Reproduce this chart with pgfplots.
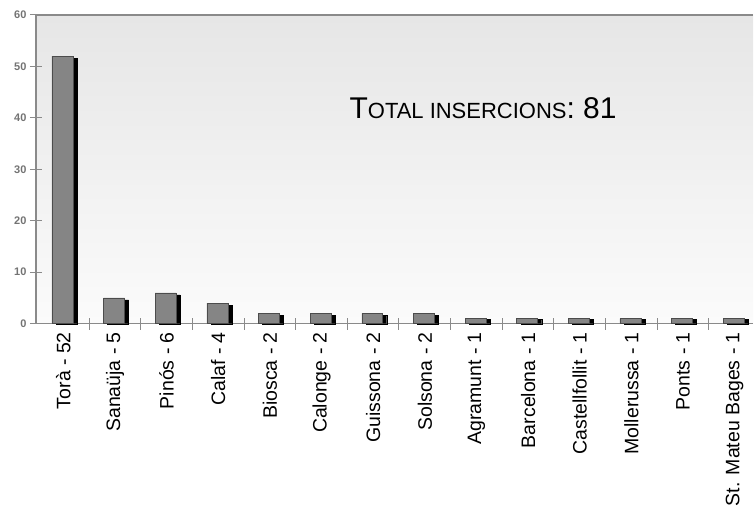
\documentclass[border=0pt]{standalone}
\usepackage{pgfplots}
\pgfplotsset{compat=1.18}
\usepackage{fontspec}
\setmainfont{Liberation Sans}
\definecolor{bargray}{HTML}{858585}
\definecolor{axgray}{HTML}{8A8A8A}
\definecolor{bgtop}{HTML}{E6E6E6}
\definecolor{bgbot}{HTML}{FBFBFB}
\begin{document}
\begin{tikzpicture}
\begin{axis}[
  name=ax,
  scale only axis,
  width=718pt, height=309pt,
  xmin=-0.53, xmax=13.36,
  ymin=0, ymax=60,
  ytick={0,10,...,60},
  xtick={0,...,13},
  xticklabels={Torà - 52,Sanaüja - 5,Pinós - 6,Calaf - 4,Biosca - 2,Calonge - 2,Guissona - 2,Solsona - 2,Agramunt - 1,Barcelona - 1,Castellfollit - 1,Mollerussa - 1,Ponts - 1,St. Mateu Bages - 1},
  x tick label style={rotate=90, anchor=east, font=\fontsize{19.5}{20}\selectfont, xshift=1pt},
  y tick label style={font=\fontsize{11}{12}\selectfont\bfseries, text=black!55},
  /pgf/number format/assume math mode=true,
  minor xtick={0.5,1.5,...,12.5},
  xtick style={draw=none},
  minor x tick style={draw=axgray, line width=1pt},
  ytick style={draw=axgray, line width=1pt},
  tick align=center,
  major tick length=12pt,
  minor tick length=12pt,
  axis x line*=bottom,
  axis y line*=left,
  axis line style={draw=axgray, line width=1.3pt, -},
  axis background/.style={top color=bgtop, bottom color=bgbot},
  clip=false,
]
\addplot[ybar, bar width=21pt, bar shift=3.1pt, fill=black, draw=black, line width=0.3pt] coordinates {
(0,51.6) (1,4.6) (2,5.6) (3,3.6) (4,1.6) (5,1.6) (6,1.6) (7,1.6) (8,0.8) (9,0.8) (10,0.8) (11,0.8) (12,0.8) (13,0.8)};
\addplot[ybar, bar width=21pt, bar shift=-0.9pt, fill=bargray, draw=black!70, line width=0.5pt] coordinates {
(0,52) (1,5) (2,6) (3,4) (4,2) (5,2) (6,2) (7,2) (8,1) (9,1) (10,1) (11,1) (12,1) (13,1)};
\draw[axgray, line width=1.6pt] (rel axis cs:0,1) -- (rel axis cs:1,1);
\node[anchor=base west, inner sep=0pt] at (axis cs:5.54,39.8) {{\fontsize{30}{30}\selectfont T}{\fontsize{22}{22}\selectfont OTAL INSERCIONS}{\fontsize{30}{30}\selectfont : 81}};
\end{axis}
\path (ax.south west) ++(-36pt,-186pt) rectangle ++(754pt,510pt);
\end{tikzpicture}
\end{document}
